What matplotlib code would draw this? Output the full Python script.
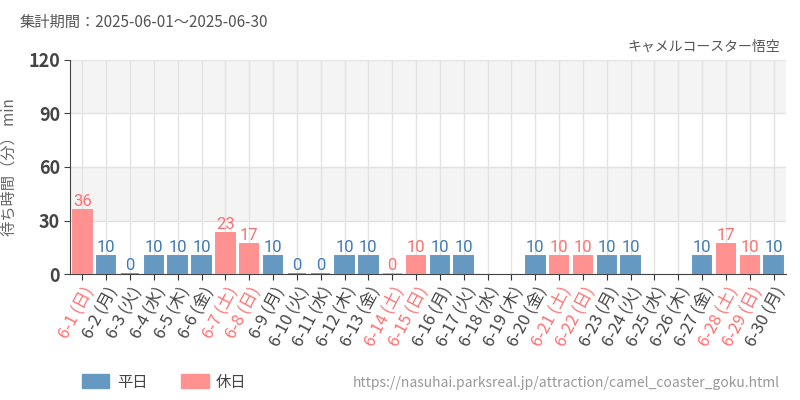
import matplotlib
matplotlib.use("Agg")
import matplotlib.pyplot as plt
from matplotlib.patches import Patch
import numpy as np

plt.rcParams["font.family"] = ["Noto Sans CJK JP", "DejaVu Sans"]

days = list(range(1, 31))
weekdays = ["日", "月", "火", "水", "木", "金", "土",
            "日", "月", "火", "水", "木", "金", "土",
            "日", "月", "火", "水", "木", "金", "土",
            "日", "月", "火", "水", "木", "金", "土",
            "日", "月"]
waits = [36, 10, 0, 10, 10, 10, 23, 17, 10, 0, 0, 10, 10, 0, 10,
         10, 10, None, None, 10, 10, 10, 10, 10, None, None, 10, 17, 10, 10]
holiday = [1, 0, 0, 0, 0, 0, 1, 1, 0, 0, 0, 0, 0, 1, 1,
           0, 0, 0, 0, 0, 1, 1, 0, 0, 0, 0, 0, 1, 1, 0]

BLUE = "#6699c2"
RED = "#ff9191"
BLUE_TXT = "#3f7ab5"
RED_TXT = "#ff6f6f"

fig = plt.figure(figsize=(8, 4), dpi=100)
ax = fig.add_axes([0.088, 0.315, 0.894, 0.535])

x = np.arange(len(days))
ax.set_xlim(-0.5, len(days) - 0.5)
ax.set_ylim(0, 120)

# alternating bands
for lo in (30, 90):
    ax.axhspan(lo, lo + 30, color="#f4f4f4", zorder=0)

for i, (v, h) in enumerate(zip(waits, holiday)):
    if v is None:
        continue
    c = RED if h else BLUE
    ax.bar(i, v, width=0.78, color=c, edgecolor=c, linewidth=1.4, zorder=3)
    ax.text(i, v + 0.6, str(v), ha="center", va="bottom", fontsize=12,
            color=RED_TXT if h else BLUE_TXT, family="Roboto", zorder=4)

ax.set_yticks([0, 30, 60, 90, 120])
ax.tick_params(axis="y", length=4, labelsize=13, labelcolor="#444444", color="#444444")
for t in ax.get_yticklabels():
    t.set_fontweight("bold")
ax.set_xticks(x)
ax.set_xticklabels([f"6-{d} ({w})" for d, w in zip(days, weekdays)],
                   rotation=62, ha="right", rotation_mode="anchor", fontsize=12)
for t, h in zip(ax.get_xticklabels(), holiday):
    t.set_color(RED_TXT if h else "#444444")
ax.tick_params(axis="x", length=4, color="#333333", pad=3)

ax.grid(True, color="#e3e3e3", linewidth=1, zorder=1)
ax.set_axisbelow(True)
for s in ["top", "right"]:
    ax.spines[s].set_visible(False)
ax.spines["left"].set_color("#444444")
ax.spines["bottom"].set_color("#444444")

ax.set_ylabel("待ち時間（分） min", fontsize=11, color="#666666", labelpad=8)

fig.text(0.025, 0.945, "集計期間：2025-06-01～2025-06-30", fontsize=11, color="#555555",
         va="center")
fig.text(0.975, 0.882, "キャメルコースター悟空", fontsize=10, color="#555555",
         ha="right", va="center")
fig.text(0.975, 0.042, "https://nasuhai.parksreal.jp/attraction/camel_coaster_goku.html",
         fontsize=10, color="#999999", ha="right", va="center")

handles = [Patch(color=BLUE, label="平日"), Patch(color=RED, label="休日")]
fig.legend(handles=handles, loc="center left", bbox_to_anchor=(0.085, 0.045), ncol=2,
           frameon=False, fontsize=11, handlelength=1.8, handleheight=1.0,
           handletextpad=0.5, columnspacing=2.2, labelcolor="#444444")

fig.savefig("out.png", dpi=100)
